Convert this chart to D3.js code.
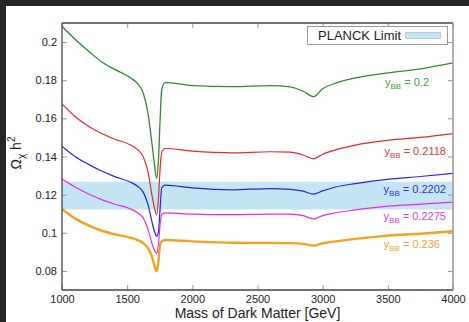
<!DOCTYPE html>
<html>
<head>
<meta charset="utf-8">
<script src="https://cdn.jsdelivr.net/npm/d3@7"></script>
<style>
  html, body { margin:0; padding:0; background:#262626; }
  text { font-family:"Liberation Sans", Arial, sans-serif; }
</style>
</head>
<body>
<script>
// relic density vs dark matter mass, one curve per y_BB
var massGrid = [1000,1100,1200,1300,1400,1522,1580,1624,1660,1690,1710,1726,1740,1752,1765,1790,
  2000,2300,2600,2750,2850,2930,3000,3100,3250,3500,3750,4000];
var omegaGreen = [.2083,.2015,.1955,.1898,.1858,.1814,.1782,.1732,.1625,.147,.1355,.1286,.138,.158,.175,.1787,
  .1772,.1766,.1772,.1765,.1742,.1714,.1755,.1785,.1812,.1838,.1860,.1891];
var omegaRed = [.1676,.1610,.1560,.1522,.1492,.1462,.1436,.1398,.1318,.1198,.1128,.1095,.118,.133,.142,.1442,
  .1428,.1419,.1425,.1423,.1408,.1388,.1412,.1435,.1460,.1485,.1500,.1520];
var omegaBlue = [.1454,.1400,.1360,.1325,.1296,.1266,.1244,.1212,.1148,.1058,.1007,.0982,.1005,.112,.1235,.1250,
  .1235,.1225,.1232,.1228,.1218,.1203,.1220,.1240,.1258,.1280,.1295,.1312];
var omegaMagenta = [.1282,.1240,.1205,.1175,.1151,.1126,.1105,.1076,.1018,.0945,.0907,.0892,.094,.104,.1095,.1104,
  .1098,.1095,.1098,.1098,.1090,.1073,.1090,.1105,.1120,.1140,.1150,.1161];
var omegaOrange = [.1125,.1075,.1040,.1012,.0993,.0975,.0962,.0946,.0918,.0876,.0826,.0798,.085,.0935,.0955,.0962,
  .0955,.0948,.0947,.0946,.0942,.0933,.0945,.0955,.0968,.0985,.0995,.1008];
var yBB = ['0.2','0.2118','0.2202','0.2275','0.236'];
var planckBand = [0.1122, 0.1268];
var xTicks = [1000,1500,2000,2500,3000,3500,4000];
var yTicks = [0.08,0.1,0.12,0.14,0.16,0.18,0.2];

var W = 469, H = 322;
var m = {l:62, r:453, t:23, b:290};
var svg = d3.select('body').append('svg').attr('width',W).attr('height',H);

svg.append('rect').attr('width',W).attr('height',H).attr('fill','#262626');
svg.append('rect').attr('x',6).attr('y',6).attr('width',W-6).attr('height',H-6).attr('fill','#fff');

var x = d3.scaleLinear().domain([1000,4000]).range([m.l,m.r]);
var y = d3.scaleLinear().domain([0.07,0.21]).range([m.b,m.t]);

// planck band
svg.append('rect').attr('x',m.l).attr('width',m.r-m.l)
  .attr('y',y(planckBand[1])).attr('height',y(planckBand[0])-y(planckBand[1]))
  .attr('fill','#c4e6f4');

// axes, ticks inward
var gx = svg.append('g').attr('transform','translate(0,'+m.b+')')
  .call(d3.axisBottom(x).tickValues(xTicks).tickSize(-5).tickPadding(5).tickFormat(d3.format('d')));
var gxt = svg.append('g').attr('transform','translate(0,'+m.t+')')
  .call(d3.axisTop(x).tickValues(xTicks).tickSize(-5).tickFormat(''));
var gy = svg.append('g').attr('transform','translate('+m.l+',0)')
  .call(d3.axisLeft(y).tickValues(yTicks).tickSize(-5).tickPadding(5).tickFormat(function(d){return String(+d.toFixed(2));}));
var gyr = svg.append('g').attr('transform','translate('+m.r+',0)')
  .call(d3.axisRight(y).tickValues(yTicks).tickSize(-5).tickFormat(''));
[gx,gxt,gy,gyr].forEach(function(g){
  g.select('.domain').remove();
  g.selectAll('.tick line').attr('stroke','#999');
  g.selectAll('.tick text').attr('fill','#222').style('font-size','11px');
});

var curves = [
  {v:omegaGreen, c:'#2e8b2e', lc:'#4a9a4a', w:1.3},
  {v:omegaRed, c:'#e8282a', lc:'#e03a3a', w:1.2},
  {v:omegaBlue, c:'#2424e8', lc:'#3030d8', w:1.2},
  {v:omegaMagenta, c:'#e62ae6', lc:'#e040e0', w:1.2},
  {v:omegaOrange, c:'#f2a21e', lc:'#eda33a', w:2.4}
];
var line = d3.line().x(function(d){return x(d[0]);}).y(function(d){return y(d[1]);}).curve(d3.curveMonotoneX);
svg.append('clipPath').attr('id','clip').append('rect')
  .attr('x',m.l).attr('y',m.t).attr('width',m.r-m.l).attr('height',m.b-m.t);
var lines = svg.append('g').attr('clip-path','url(#clip)');
curves.forEach(function(cv){
  lines.append('path').datum(d3.zip(massGrid, cv.v))
    .attr('d',line).attr('fill','none').attr('stroke',cv.c).attr('stroke-width',cv.w)
    .attr('stroke-linejoin','round');
});

// curve labels: [mass, omega] of text end
var labelAt = [[3816,0.1792],[3946,0.1429],[3946,0.1230],[3946,0.1090],[3900,0.0939]];
curves.forEach(function(cv,i){
  var t = svg.append('text').attr('x',x(labelAt[i][0])).attr('y',y(labelAt[i][1])+4)
    .attr('text-anchor','end').attr('fill',cv.lc).style('font-size','11px');
  t.append('tspan').text('y');
  t.append('tspan').text('BB').attr('dy',3).style('font-size','8px');
  t.append('tspan').text(' = '+yBB[i]).attr('dy',-3);
});

// frame
svg.append('line').attr('x1',m.l).attr('x2',m.r).attr('y1',m.t).attr('y2',m.t).attr('stroke','#444').attr('stroke-width',1.3);
svg.append('line').attr('x1',m.l).attr('x2',m.r).attr('y1',m.b).attr('y2',m.b).attr('stroke','#444').attr('stroke-width',1.3);
svg.append('line').attr('x1',m.l).attr('x2',m.l).attr('y1',m.t).attr('y2',m.b).attr('stroke','#444').attr('stroke-width',1.3);
svg.append('line').attr('x1',m.r).attr('x2',m.r).attr('y1',m.t).attr('y2',m.b).attr('stroke','#9a9a9a').attr('stroke-width',1.6);

// legend
var lg = svg.append('g');
lg.append('rect').attr('x',307.5).attr('y',26.5).attr('width',140).attr('height',18)
  .attr('fill','#fff').attr('stroke','#999');
lg.append('text').attr('x',318).attr('y',40).attr('fill','#222').style('font-size','13px').text('PLANCK Limit');
lg.append('rect').attr('x',405.5).attr('y',32.5).attr('width',35).attr('height',6)
  .attr('fill','#c4e6f4').attr('stroke','#bbb').attr('stroke-width',0.8);

// axis titles
svg.append('text').attr('x',(m.l+m.r)/2).attr('y',318).attr('text-anchor','middle')
  .attr('fill','#222').style('font-size','14px').text('Mass of Dark Matter [GeV]');
var yl = svg.append('text').attr('transform','translate(21,153) rotate(-90)')
  .attr('text-anchor','middle').attr('fill','#222').style('font-size','14px');
yl.append('tspan').text('Ω');
yl.append('tspan').text('χ').attr('dy',4).style('font-size','10px');
yl.append('tspan').text(' h').attr('dy',-4);
yl.append('tspan').text('2').attr('dy',-6).style('font-size','10px');
</script>
</body>
</html>
